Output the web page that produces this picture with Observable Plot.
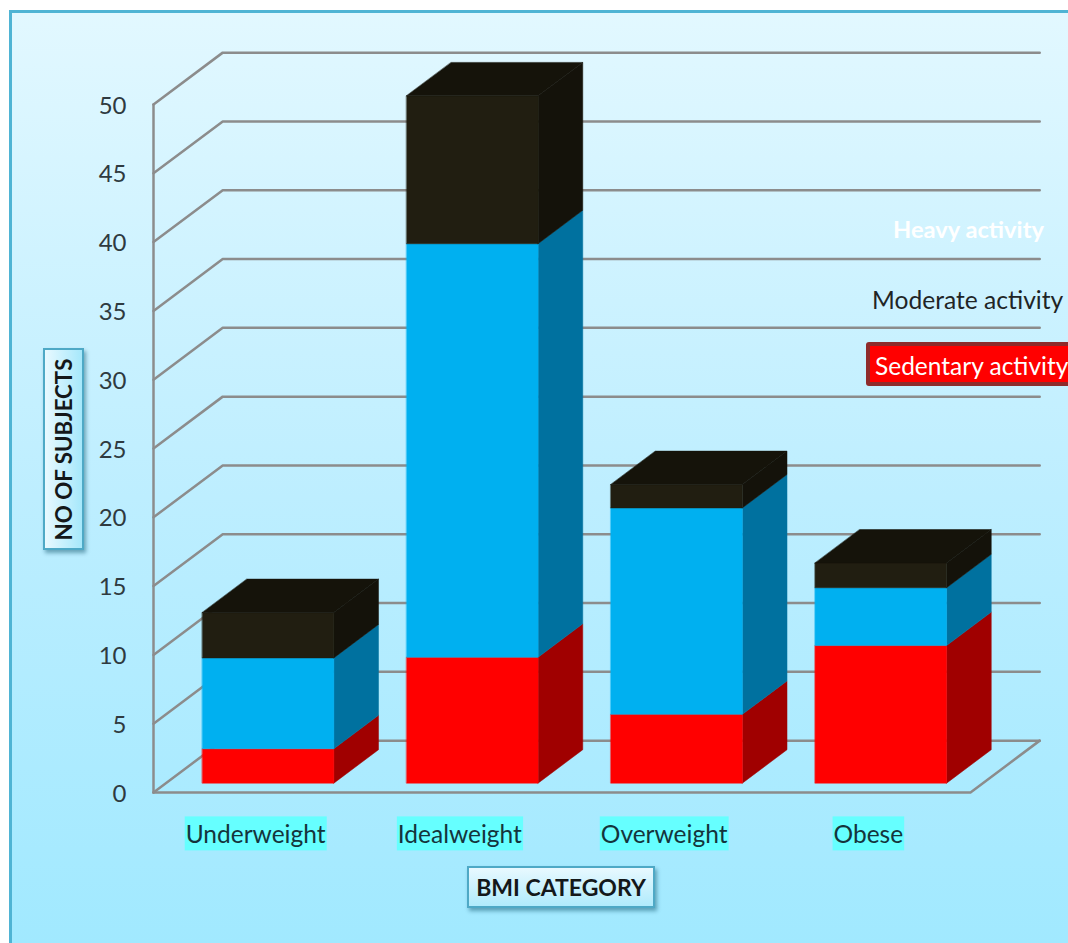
<!DOCTYPE html>
<html>
<head>
<meta charset="utf-8">
<script src="https://cdn.jsdelivr.net/npm/d3@7"></script>
<script src="https://cdn.jsdelivr.net/npm/@observablehq/plot@0.6"></script>
<style>
  html, body { margin: 0; padding: 0; background: #fff; }
  #page { position: relative; width: 1068px; height: 943px; overflow: hidden; font-family: Lato, sans-serif; }
  #panel {
    position: absolute; left: 9px; top: 10px; width: 1100px; height: 931px;
    border-left: 3px solid #4fb4d4; border-top: 3px solid #4fb4d4; border-bottom: 1px solid #7fdcf5;
    background: linear-gradient(180deg, #e2f8ff 0%, #bdeeff 52%, #a1e9ff 100%);
  }
  #chart { position: absolute; left: 0; top: 0; }
  .axis-title {
    position: absolute; box-sizing: border-box; display: flex; align-items: center; justify-content: center;
    border: 2px solid #4ea9c6; box-shadow: 2px 3px 4px rgba(0, 70, 95, .45);
    font-weight: 700; font-size: 23px; color: #14181a; white-space: nowrap;
  }
  #y-title { left: 43px; top: 348px; width: 41px; height: 202px; background: linear-gradient(90deg, #e8f9ff, #a6e8fb); font-size: 22.3px; }
  #y-title span { transform: rotate(-90deg); display: block; }
  #x-title { left: 467px; top: 866px; width: 188px; height: 42px; background: linear-gradient(180deg, #e8f9ff, #b0ebfc); }
  .key { position: absolute; font-size: 24.6px; white-space: nowrap; line-height: 30px; }
  #key-heavy { left: 893px; top: 214px; color: #fff; font-weight: 700; font-size: 23.7px; }
  #key-moderate { left: 872px; top: 285px; color: #1f2526; }
  #key-sedentary { left: 866px; top: 342px; width: 220px; height: 44px; box-sizing: border-box; border: 4px solid #8e2b2b; border-radius: 3px; background: #f00; color: #fff; padding: 5px 0 0 5px; font-size: 24.5px; }
</style>
</head>
<body>
<div id="page">
  <div id="panel"></div>
  <div id="chart"></div>
  <div class="axis-title" id="y-title"><span>NO OF SUBJECTS</span></div>
  <div class="axis-title" id="x-title">BMI CATEGORY</div>
  <div class="key" id="key-heavy">Heavy activity</div>
  <div class="key" id="key-moderate">Moderate activity</div>
  <div class="key" id="key-sedentary">Sedentary activity</div>
</div>
<script>
// Subjects per BMI category, split by activity level
const categories = ["Underweight", "Idealweight", "Overweight", "Obese"];
const sedentary = [2.5, 9.15, 5, 10];
const moderate = [6.6, 30.05, 15, 4.2];
const heavy = [3.3, 10.75, 1.7, 1.8];
const yTicks = [0, 5, 10, 15, 20, 25, 30, 35, 40, 45, 50];

// Fake perspective: t = 0 is the front of the floor, t = 1 the back wall
const wallX = 0.339;
const wallY = 3.77;
const project = (x, v, t) => ({x: x + t * wallX, y: v + t * wallY});
const barFront = 0.18;
const barBack = 0.825;
const barHalf = 0.322;
const left = -0.5;
const right = 3.5;

const layers = [
  {values: sedentary, front: "#ff0000", side: "#a00000"},
  {values: moderate, front: "#00b0f0", side: "#00719f"},
  {values: heavy, front: "#211e11", side: "#14120a"}
];
const topColor = "#15130a";
const gridColor = "#8c8c8c";

const face = (points, fill) => Plot.line(points, {x: "x", y: "y", fill, stroke: fill, strokeWidth: 0.5, curve: "linear-closed"});
const wire = (points) => Plot.line(points, {x: "x", y: "y", stroke: gridColor, strokeWidth: 2.5, curve: "linear"});

const marks = [];

// Gridlines run along the side wall and then the back wall
for (const v of yTicks) {
  marks.push(wire([project(left, v, 0), project(left, v, 1), project(right, v, 1)]));
}
marks.push(wire([project(left, 0, 0), project(left, 50, 0)]));
marks.push(wire([project(left, 0, 0), project(right, 0, 0), project(right, 0, 1)]));

// Stacked boxes: front and side faces per layer, one lid on the top layer
categories.forEach((_, i) => {
  let base = 0;
  for (const {values, front, side} of layers) {
    const end = base + values[i];
    const x0 = i - barHalf;
    const x1 = i + barHalf;
    marks.push(face([project(x1, base, barFront), project(x1, base, barBack), project(x1, end, barBack), project(x1, end, barFront)], side));
    marks.push(face([project(x0, base, barFront), project(x1, base, barFront), project(x1, end, barFront), project(x0, end, barFront)], front));
    base = end;
  }
  marks.push(face([project(i - barHalf, base, barFront), project(i + barHalf, base, barFront), project(i + barHalf, base, barBack), project(i - barHalf, base, barBack)], topColor));
});

marks.push(Plot.axisY({anchor: "left", ticks: yTicks, tickSize: 0, tickPadding: 27, dy: 1.5, label: null, fontSize: 24, color: "#2f3a40"}));
marks.push(Plot.axisX({anchor: "bottom", ticks: categories.map((_, i) => i), tickFormat: (i) => categories[i], tickSize: 0, tickPadding: 33, label: null, fontSize: 24.5, color: "#14353c"}));

const chart = Plot.plot({
  width: 1068,
  height: 943,
  marginLeft: 153,
  marginRight: 98,
  marginTop: 104,
  marginBottom: 151,
  x: {type: "linear", domain: [left, right]},
  y: {type: "linear", domain: [0, 50]},
  style: {background: "transparent", fontFamily: "Lato, sans-serif", overflow: "visible"},
  marks
});
document.getElementById("chart").append(chart);

// Cyan highlight behind each category label
chart.querySelectorAll('g[aria-label="x-axis tick label"] text').forEach((label) => {
  const box = label.getBBox();
  const rect = document.createElementNS("http://www.w3.org/2000/svg", "rect");
  rect.setAttribute("x", box.x - 1);
  rect.setAttribute("y", box.y + box.height / 2 - 17);
  rect.setAttribute("width", box.width + 2);
  rect.setAttribute("height", 34);
  rect.setAttribute("fill", "#66ffff");
  rect.setAttribute("transform", label.getAttribute("transform") || "");
  label.parentNode.insertBefore(rect, label);
});
</script>
</body>
</html>
